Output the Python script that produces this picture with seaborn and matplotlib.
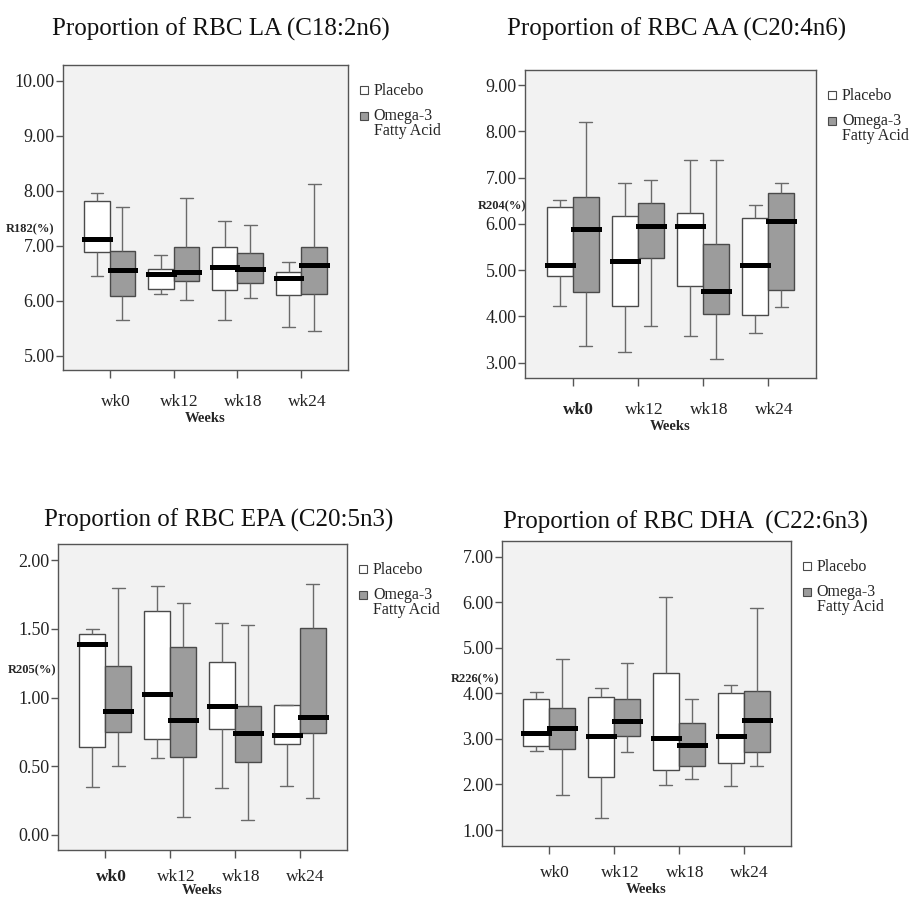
import numpy as np
import pandas as pd
import matplotlib.pyplot as plt
import matplotlib.transforms as mtransforms
from matplotlib.lines import Line2D
from matplotlib.legend_handler import HandlerLine2D
import seaborn as sns

# box summaries: (min, Q1, median, Q3, max) per week
weeks = ["wk0", "wk12", "wk18", "wk24"]
groups = ["Placebo", "Omega-3\nFatty Acid"]

la_placebo = [[6.45, 6.88, 7.12, 7.82, 7.95], [6.13, 6.21, 6.48, 6.58, 6.83],
              [5.65, 6.19, 6.61, 6.97, 7.44], [5.53, 6.10, 6.42, 6.53, 6.71]]
la_omega = [[5.65, 6.08, 6.56, 6.90, 7.70], [6.02, 6.36, 6.53, 6.97, 7.86],
            [6.04, 6.32, 6.57, 6.87, 7.38], [5.44, 6.13, 6.65, 6.98, 8.13]]

aa_placebo = [[4.23, 4.88, 5.12, 6.36, 6.51], [3.22, 4.23, 5.19, 6.17, 6.88],
              [3.58, 4.65, 5.95, 6.24, 7.37], [3.64, 4.02, 5.10, 6.13, 6.41]]
aa_omega = [[3.35, 4.53, 5.89, 6.59, 8.20], [3.80, 5.25, 5.95, 6.44, 6.95],
            [3.08, 4.06, 4.55, 5.57, 7.37], [4.20, 4.56, 6.07, 6.67, 6.89]]

epa_placebo = [[0.35, 0.64, 1.39, 1.46, 1.50], [0.56, 0.70, 1.03, 1.63, 1.81],
               [0.34, 0.77, 0.94, 1.26, 1.54], [0.36, 0.66, 0.73, 0.95, 0.95]]
epa_omega = [[0.50, 0.75, 0.90, 1.23, 1.80], [0.13, 0.57, 0.84, 1.37, 1.69],
             [0.11, 0.53, 0.74, 0.94, 1.53], [0.27, 0.74, 0.86, 1.51, 1.83]]

dha_placebo = [[2.74, 2.85, 3.14, 3.88, 4.04], [1.27, 2.17, 3.07, 3.93, 4.11],
               [1.99, 2.32, 3.01, 4.45, 6.12], [1.97, 2.47, 3.06, 4.00, 4.19]]
dha_omega = [[1.76, 2.77, 3.25, 3.67, 4.75], [2.72, 3.06, 3.39, 3.87, 4.66],
             [2.11, 2.40, 2.87, 3.34, 3.88], [2.40, 2.72, 3.42, 4.05, 5.88]]

titles = ["Proportion of RBC LA (C18:2n6)", "Proportion of RBC AA (C20:4n6)",
          "Proportion of RBC EPA (C20:5n3)", "Proportion of RBC DHA  (C22:6n3)"]
ylabels = ["R182(%)", "R204(%)", "R205(%)", "R226(%)"]
yticks = [[5, 6, 7, 8, 9, 10], [3, 4, 5, 6, 7, 8, 9],
          [0, 0.5, 1.0, 1.5, 2.0], [1, 2, 3, 4, 5, 6, 7]]


def make_df(placebo, omega):
    rows = []
    for g, series in zip(groups, [placebo, omega]):
        for wk, vals in zip(weeks, series):
            for v in vals:
                rows.append({"Weeks": wk, "group": g, "value": v})
    return pd.DataFrame(rows)


class FirstLineHandler(HandlerLine2D):
    # put the legend marker next to the first line of a two-line label
    def __init__(self, dy, **kw):
        super().__init__(**kw)
        self.dy = dy

    def create_artists(self, legend, orig_handle, xdescent, ydescent,
                       width, height, fontsize, trans):
        arts = super().create_artists(legend, orig_handle, xdescent, ydescent,
                                      width, height, fontsize, trans)
        for a in arts:
            a.set_ydata(np.asarray(a.get_ydata()) + self.dy)
        return arts


data = [make_df(la_placebo, la_omega), make_df(aa_placebo, aa_omega),
        make_df(epa_placebo, epa_omega), make_df(dha_placebo, dha_omega)]

sns.set_style("ticks")
plt.rcParams['font.family'] = ['Liberation Serif', 'DejaVu Serif']

palette = {groups[0]: "white", groups[1]: "#9c9c9c"}
edge = "#4a4a4a"

fig = plt.figure(figsize=(9.11, 9.0), dpi=100)

# axes rectangles (left, bottom, width, height)
rects = [[0.0692, 0.5889, 0.3128, 0.3389], [0.5763, 0.5800, 0.3194, 0.3422],
         [0.0637, 0.0556, 0.3172, 0.3400], [0.5510, 0.0600, 0.3172, 0.3389]]
ylims = [(4.74, 10.285), (2.667, 9.324), (-0.109, 2.119), (0.65, 7.344)]
ylab_pos = [(-0.03, 0.462), (0.005, 0.556), (-0.005, 0.588), (-0.008, 0.548)]
title_pos = [(0.243, 0.967), (0.743, 0.967), (0.240, 0.422), (0.752, 0.420)]
bold_first = [False, True, True, False]
xpad = [11, 11, 8, 8]
xlabpad = [2, 2, -1, 1]

for i in range(4):
    ax = fig.add_axes(rects[i])
    sns.boxplot(data=data[i], x="Weeks", y="value", hue="group", order=weeks,
                hue_order=groups, palette=palette, saturation=1, width=0.8,
                gap=0, whis=np.inf, fliersize=0, linecolor=edge, linewidth=1,
                legend=False, ax=ax,
                whiskerprops={"color": "#6a6a6a"},
                capprops={"color": "#6a6a6a"},
                medianprops={"color": "black", "linewidth": 3.6,
                             "solid_capstyle": "projecting"})
    ax.set_facecolor("#f2f2f2")
    for s in ax.spines.values():
        s.set_color("#555555")
        s.set_linewidth(1)
    ax.set_xlim(-0.73, 3.73)
    ax.set_ylim(*ylims[i])
    ax.set_yticks(yticks[i])
    ax.set_yticklabels([f"{t:.2f}" for t in yticks[i]], fontsize=13, color="#222222")
    ax.tick_params(axis="y", length=5, width=1, color="#555555", pad=1)
    ax.tick_params(axis="x", length=6, width=1, color="#555555", pad=xpad[i], labelsize=12.5)
    offset = mtransforms.ScaledTranslation(6 / 100, 0, fig.dpi_scale_trans)
    for k, lab in enumerate(ax.get_xticklabels()):
        lab.set_transform(lab.get_transform() + offset)
        lab.set_color("#222222")
        if k == 0 and bold_first[i]:
            lab.set_fontweight("bold")
    ax.set_xlabel("Weeks", fontsize=10.5, fontweight="bold", labelpad=xlabpad[i])
    ax.set_ylabel(ylabels[i], fontsize=9, fontweight="bold", rotation=0,
                  ha="right", va="center")
    ax.yaxis.set_label_coords(*ylab_pos[i])

    handles = [Line2D([], [], marker="s", ls="", markerfacecolor=palette[g],
                      markeredgecolor=edge, markeredgewidth=0.8, markersize=6)
               for g in groups]
    leg = ax.legend(handles, groups, loc="upper left", bbox_to_anchor=(1.04, 0.94),
                    frameon=False, fontsize=11.5, handlelength=0.6, handletextpad=0.3,
                    labelspacing=0.55, borderpad=0, borderaxespad=0,
                    handler_map={handles[1]: FirstLineHandler(6)})
    for t in leg.get_texts():
        t.set_linespacing(0.9)

    fig.text(title_pos[i][0], title_pos[i][1], titles[i], fontsize=18,
             ha="center", va="center", color="#111111")

plt.savefig("out.png", dpi=100)
